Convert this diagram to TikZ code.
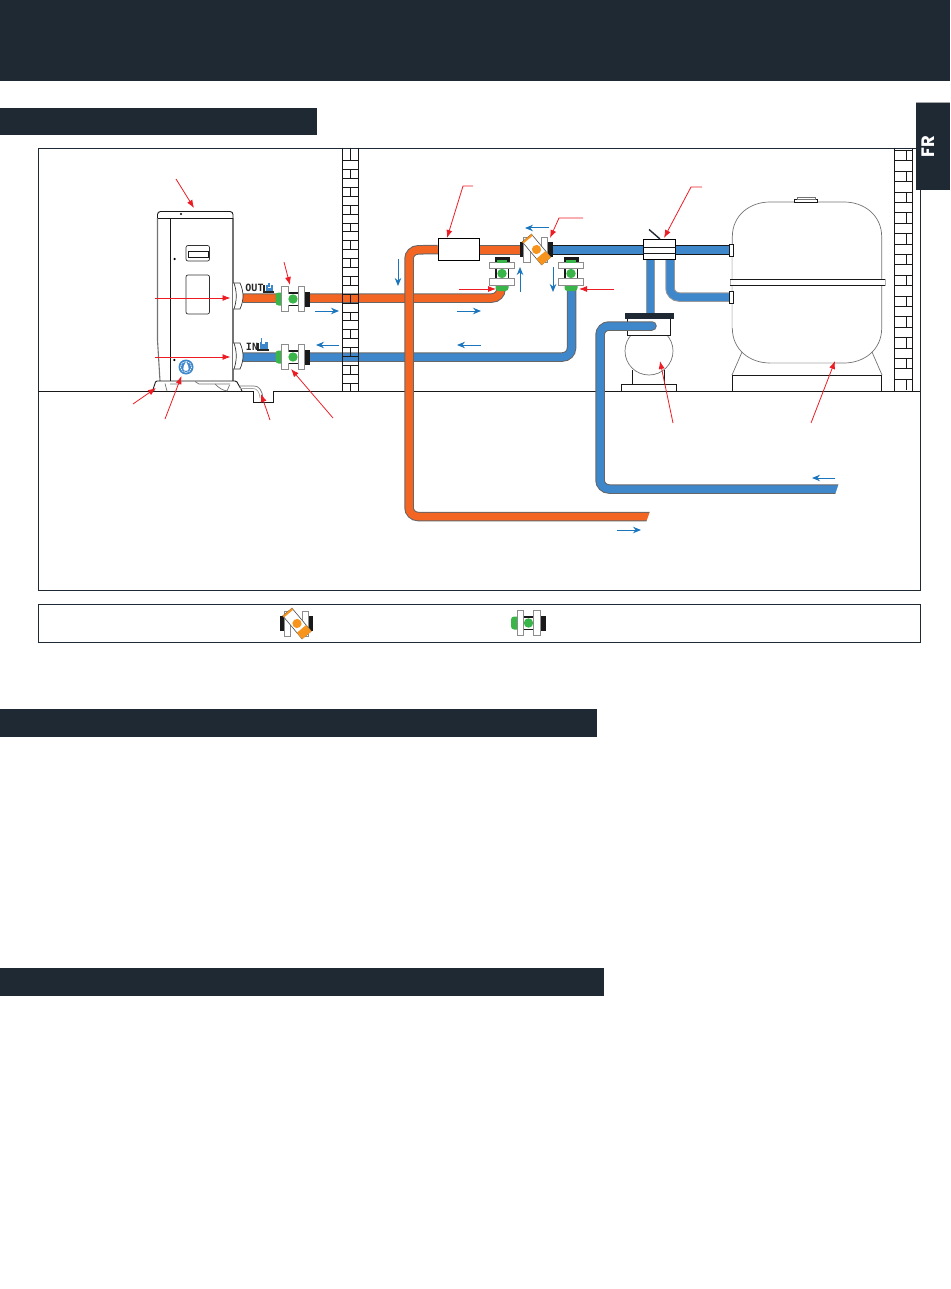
\documentclass[tikz,border=0pt]{standalone}
\usepackage{fontspec}
\newfontfamily\tabfont{Poppins}
\newfontfamily\labelfont{DejaVu Sans Mono}
\usetikzlibrary{arrows.meta}
\definecolor{mydark}{HTML}{1F2933}
\definecolor{myorange}{HTML}{F26522}
\definecolor{myblue}{HTML}{3F87CB}
\definecolor{mygreen}{HTML}{39B54A}
\definecolor{myamber}{HTML}{F7941D}
\definecolor{myred}{HTML}{ED1C24}
\definecolor{myflow}{HTML}{1B75BC}
\tikzstyle{redarrow}=[myred,line width=.8pt,-{Latex[length=8pt,width=6pt]}]
\tikzstyle{flowarrow}=[myflow,line width=1pt,-{Stealth[length=8pt,width=6.5pt]}]
\tikzstyle{thinline}=[black!90,line width=.9pt]
\tikzstyle{softline}=[black!55,line width=.7pt]
\tikzstyle{pipeline}=[line width=1pt,double distance=7.5pt,color=black!60,rounded corners=9pt]
\tikzstyle{blackpipe}=[line width=1pt,double distance=7.5pt,color=black!90,double=myblue]
\tikzstyle{bar}=[fill=white,draw=black!45,line width=.6pt]
\tikzset{
	greenvalve/.pic={
		\fill[black!90] (12,-7.5) rectangle (17,7.5);
		\fill[black!90] (-8,-7) rectangle (12,7);
		\fill[mygreen,rounded corners=3pt] (-17.5,-6.5) rectangle (-8,6.5);
		\fill[white] (-5,-5.5) rectangle (12,5.5);
		\draw[bar] (-11.5,-12.5) rectangle (-5,12.5);
		\draw[bar] (5,-12.5) rectangle (11.5,12.5);
		\fill[white] (-4.7,-5.5) rectangle (4.7,5.5);
		\fill[mygreen] (0,0) circle (4.7);
	},
	ambervalve/.pic={
		\fill[black!90] (-17,-7.5) rectangle (-9,7.5);
		\fill[black!90] (9,-7.5) rectangle (16,7.5);
		\draw[bar] (-13,-12.5) rectangle (-6.5,12.5);
		\draw[bar] (5,-12.5) rectangle (11,12.5);
		\begin{scope}[rotate=-50]
			\draw[bar,draw=black!70] (-15,-6) rectangle (15,6);
			\fill[myamber] (7,-6) rectangle (15.3,6);
			\fill[myamber] (-15,-6) rectangle (-13,6);
			\fill[myamber] (0,0) circle (4.6);
		\end{scope}
	}
}
\begin{document}
\begin{tikzpicture}[x=1pt,y=-1pt]
	\useasboundingbox (0,0) rectangle (950,1289);

	\fill[mydark] (0,0) rectangle (950,81);
	\foreach \y / \w in {108/317,709/597,968/604} { \fill[mydark] (0,\y) rectangle +(\w,27.5); }
	\draw[black!35,line width=1pt] (916,103) -- (950,103);
	\fill[mydark] (916,103.5) rectangle (950,190);
	\node[rotate=90,text=white,font=\tabfont\bfseries\fontsize{18}{18}\selectfont,inner sep=0pt] (tab) at (928,146.5) {FR};

	\draw[thinline,draw=mydark] (38,148) rectangle (920,590);
	\draw[thinline,draw=mydark] (38,604) rectangle (920,642);
	\draw[thinline] (38,391) -- (253,391) -- (253,402.5) -- (273,402.5) -- (273,391) -- (920,391);

	% horizontal pipes, the walls come over them
	\draw[pipeline,double=myorange] (243,298) -- (501,298) -- (501,285);
	\draw[pipeline,double=myblue] (243,357) -- (571.5,357) -- (571.5,285);

	% walls
	\draw[thinline] (342.5,148) -- (342.5,391) (358,148) -- (358,391);
	\foreach \i in {0,...,25} {
		\draw[thinline] (342.5,{160.7+8.9*\i}) -- (358,{160.7+8.9*\i});
	}
	\draw[thinline] (350.3,148) -- (350.3,160.7);
	\foreach \i in {0,...,12} {
		\draw[thinline] (350.3,{169.6+17.8*\i}) -- (350.3,{178.5+17.8*\i});
	}
	\draw[thinline] (894.5,148) -- (894.5,391) (912,148) -- (912,391);
	\foreach \i in {0,...,22} {
		\draw[thinline] (894.5,{150.4+10.4*\i}) -- (912,{150.4+10.4*\i});
	}
	\foreach \i in {0,...,11} {
		\draw[thinline] (906.5,{150.4+20.8*\i}) -- (906.5,{160.8+20.8*\i});
	}
	\draw[line width=1.5pt,black!90] (894.5,254.7) -- (912,254.7) (894.5,337.7) -- (912,337.7);
	\draw[line width=1.5pt,black!90] (342.5,160.7) -- (358,160.7);

	% heat pump
	\draw[softline,line width=1.1pt] (157.5,218) -- (157.5,340) -- (160,381);
	\draw[softline,line width=1.1pt] (233,218) -- (233,381);
	\draw[thinline,rounded corners=3pt] (157.5,218) -- (157.5,211.5) -- (233,211.5) -- (233,218);
	\draw[thinline] (157.5,218) -- (233,218);
	\draw[thinline] (170.3,218) -- (170.3,381);
	\foreach \x / \y in {181/214,174.6/259,174.3/360} { \fill[black] (\x,\y) circle (1.2); }
	\draw[softline,rounded corners=2pt,black!80] (186,245.5) rectangle (209.5,261);
	\draw[thinline] (188.5,251.5) rectangle (208,257.5);
	\draw[softline,rounded corners=2pt,black!80] (186,275) rectangle (209.5,314);
	\foreach \y in {283,343} {
		\draw[softline,black!80,fill=white] (233,\y) -- (240,\y) .. controls (244,{\y+9}) and (244,{\y+17}) .. (240,{\y+26}) -- (233,{\y+26});
		\draw[softline,black!80] (234,\y) .. controls (237,{\y+9}) and (237,{\y+17}) .. (234,{\y+26});
	}
	\fill[myblue] (186,367) circle (7.5);
	\draw[white,line width=.7pt,dash pattern=on 1.2pt off .8pt] (186,367) circle (5.6);
	\fill[white] (186,361.5) .. controls (184,365.5) and (183,367.5) .. (183.3,369) .. controls (184,371.5) and (188,371.5) .. (188.7,369) .. controls (189,367.5) and (188,365.5) .. (186,361.5);
	\draw[thinline] (155,391) -- (152.5,391) -- (155.5,382) -- (157,381) -- (235,381) -- (237,382) -- (242,391);
	\draw[softline] (170,384) -- (180,384) -- (181,381.5) (195,381.5) -- (199,384) -- (230,384);
	\draw[softline] (165,383.5) -- (167,391) (227,391) -- (229.5,385);
	\draw[softline] (215,384) .. controls (219,388) and (222,390) .. (227,391);
	\draw[softline] (239,386) -- (254,386) .. controls (259,386) and (262,390) .. (263,398);
	\draw[softline,black!35] (240,388.5) -- (253,388.5) .. controls (257,388.5) and (259.5,392) .. (260,398);

	\node[font=\labelfont\bfseries\fontsize{10}{10}\selectfont,text=black!85,inner sep=0pt] (outlabel) at (254.5,288) {OUT};
	\node[font=\labelfont\bfseries\fontsize{10}{10}\selectfont,text=black!85,inner sep=0pt] (inlabel) at (252,346.5) {IN};
	\fill[myblue] (265.5,285) rectangle (273,291);
	\fill[white] (267.5,285) rectangle (270.5,288);
	\fill[myblue] (268.3,282.5) rectangle (269.8,287);
	\draw[line width=1.8pt,black!85] (264,285) -- (264,292) -- (273.5,292);
	\fill[myblue] (260,342) rectangle (268,348.5);
	\fill[white] (262,342) rectangle (265,344);
	\fill[myblue] (260.5,338) rectangle (262,342);
	\draw[line width=1.8pt,black!85] (258,343) -- (258,350) -- (268.5,350);

	% valves
	\pic at (293,299) {greenvalve};
	\pic at (293,357) {greenvalve};
	\pic[rotate=90] at (502,273.5) {greenvalve};
	\pic[rotate=90] at (571,273.5) {greenvalve};
	\pic at (528.5,623) {greenvalve};
	\fill[mygreen] (497,260) rectangle (507,262.5);
	\fill[mygreen] (566,260) rectangle (576,262.5);

	% heater and selector on the top line
	\draw[line width=1pt,double distance=7pt,color=black!60,double=myorange] (480,250) -- (520,250);
	\draw[blackpipe] (552,250) -- (729,250);
	\pic at (536.5,249.5) {ambervalve};
	\pic at (297,623.5) {ambervalve};
	\draw[line width=1pt,double distance=7pt,color=black!40,double=myblue] (650.5,260) -- (650.5,313);
	\draw[pipeline,double=myblue,color=black!40] (670,260) -- (670,297) -- (729,297);
	\node[draw=black,fill=white,line width=1pt,minimum width=41.5pt,minimum height=22.5pt,inner sep=0pt] (heater) at (459,249.5) {};
	\node[draw=black,fill=white,line width=1pt,minimum width=32.5pt,minimum height=20pt,inner sep=0pt] (multiway) at (659.5,249.5) {};
	\draw[thinline] (multiway.west |- 0,247) -- (multiway.east |- 0,247);
	\draw[thinline] (multiway.west |- 0,253.5) -- (multiway.east |- 0,253.5);
	\draw[line width=1.4pt,mydark] (649,229.5) -- (660,239);

	% pump
	\draw[softline] (649,351) circle (24);
	\draw[thinline,fill=white] (627.5,318) rectangle (670.5,335.5);
	\fill[mydark] (625,313) rectangle (674,319);
	\draw[thinline] (632.5,370) -- (632.5,384) (664.5,370) -- (664.5,384);
	\draw[thinline] (621.5,391) -- (621.5,384) -- (676.5,384) -- (676.5,391);
	\draw[pipeline,double=myblue,line cap=round] (652,326) -- (600,326) -- (600,489) -- (838,489);
	\fill[white] (839,483) -- (850,483) -- (850,495) -- (835,495) -- cycle;

	% tank
	\draw[softline] (732.3,247) -- (732.3,237) .. controls (732.3,215) and (750,202) .. (770,202) -- (844,202) .. controls (864,202) and (881.7,215) .. (881.7,237) -- (881.7,328) .. controls (881.7,350) and (864,363) .. (844,363) -- (770,363) .. controls (750,363) and (732.3,350) .. (732.3,328) -- cycle;
	\draw[black!12,line width=1.2pt] (732.3,256) -- (732.3,328) (770,363) -- (834,363);
	\draw[softline] (732,375) -- (742,352) (882,375) -- (872,352);
	\draw[thinline] (732.3,391) -- (732.3,375) -- (881.7,375) -- (881.7,391);
	\draw[fill=white,draw=black!30,line width=.6pt] (730,279.5) rectangle (885,285.5);
	\draw[thinline] (730,279.5) -- (885,279.5) (730,285.5) -- (885,285.5);
	\draw[thinline,fill=white] (794.5,202) rectangle (817.5,199);
	\draw[softline] (797.5,199) rectangle (815,197);
	\draw[thinline,fill=white] (729,244.5) rectangle (733,256.5);
	\draw[thinline,fill=white] (729,291) rectangle (733,303.5);

	% long orange return, on top of all it crosses
	\draw[pipeline,double=myorange] (650,516.5) -- (409,516.5) -- (409,250) -- (heater.west);
	\fill[white] (650.5,510) -- (654,510) -- (654,523) -- (646,523) -- cycle;

	\foreach \a / \b / \c / \d in {176/179/194/208, 284/262/290/285, 155/298/230.5/298, 155/357/230.5/357, 133/404/156/388, 165/419/181.5/376, 270/420/261/394, 333/418/291/369, 459/289/496/289, 614/289/579/289, 673/423/660/361, 811/423/835/361} {
		\draw[redarrow] (\a,\b) -- (\c,\d);
	}
	\draw[redarrow] (473,186) -- (463,186) -- (447,238);
	\draw[redarrow] (583,218) -- (559,218) -- (550,238);
	\draw[redarrow] (702,187) -- (691,187) -- (664,238);

	\foreach \a / \b / \c / \d in {315/311/339/311, 339/345/316/345, 398/259/398/286, 457/311/481/311, 481/345/457/345, 520/292/520/267, 553/267/553/292, 549/228/525/228, 835/478/812/478, 617/530/641/530} {
		\draw[flowarrow] (\a,\b) -- (\c,\d);
	}
\end{tikzpicture}
\end{document}
